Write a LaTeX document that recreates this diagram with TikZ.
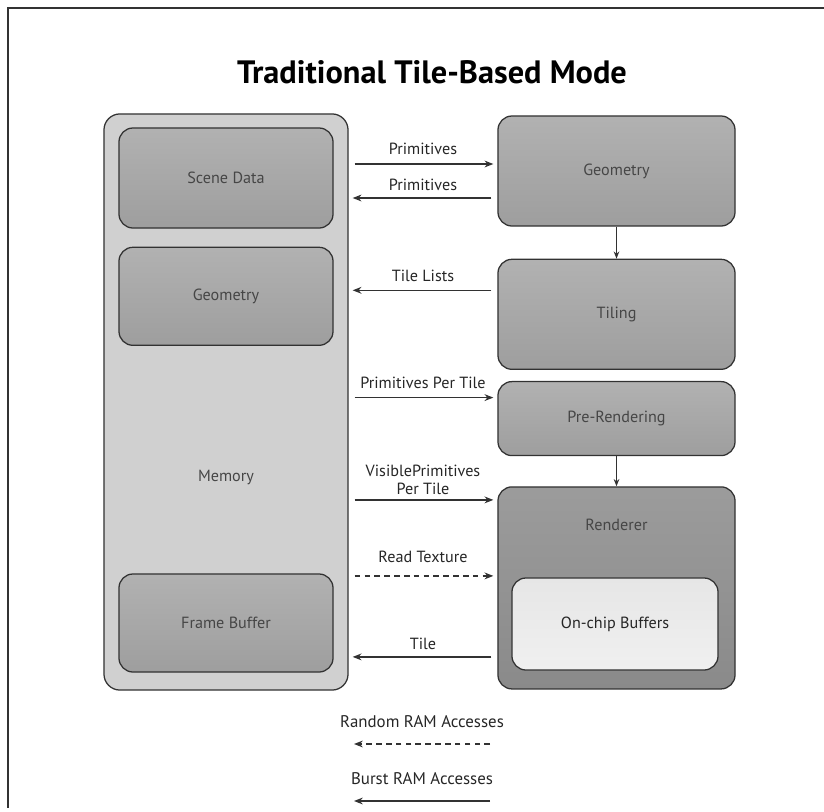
\documentclass[tikz,border=0pt]{standalone}
\usepackage{fontspec}
\setmainfont{PT Sans}
\usetikzlibrary{arrows.meta, positioning, calc}
\definecolor{boxgray}{RGB}{158, 158, 158}
\definecolor{boxdark}{RGB}{138, 138, 138}
\definecolor{memgray}{RGB}{208, 208, 208}
\definecolor{bufgray}{RGB}{230, 230, 230}
\definecolor{edgegray}{RGB}{50, 50, 50}
\definecolor{txtgray}{RGB}{70, 70, 70}

\begin{document}
\begin{tikzpicture}[x=0.025cm, y=-0.025cm,
    box/.style={draw=edgegray, line width=0.9pt, rounded corners=0.35cm, top color=boxgray!80!white, bottom color=boxgray, minimum width=5.35cm, font=\fontsize{11.5}{13}\selectfont, text=txtgray, align=center},
    rbox/.style={box, minimum width=5.925cm},
    lbl/.style={font=\fontsize{11.5}{13}\selectfont, text=black!85, align=center, inner sep=1pt},
    arr/.style={-{Stealth[length=2.2mm, width=1.7mm]}, line width=0.9pt, edgegray, shorten <=0.15cm, shorten >=0.1cm},
    down/.style={-{Stealth[length=1.8mm, width=1.4mm]}, line width=0.7pt, edgegray}
  ]
  \useasboundingbox (0,0) rectangle (824,811);
  % frame
  \draw[line width=1.1pt, edgegray] (824,8) -- (8,8) -- (8,808);
  \node[font=\bfseries\fontsize{23}{27}\selectfont] (title) at (432,72) {Traditional Tile-Based Mode};

  % memory column
  \node[box, top color=memgray, bottom color=memgray, minimum width=6.1cm, minimum height=14.4cm, rounded corners=0.4cm] (mem) at (226,402) {};
  \node[box, minimum height=2.5cm] (scene) at (226,178) {Scene Data};
  \node[box, minimum height=2.45cm, below=0.45cm of scene] (geoL) {Geometry};
  \node[lbl, font=\fontsize{11.5}{13}\selectfont, text=txtgray] (memlbl) at (226,477) {Memory};
  \node[box, minimum height=2.45cm] (fb) at (226,623) {Frame Buffer};

  % pipeline column
  \node[rbox, minimum height=2.75cm] (geoR) at (616.5,171) {Geometry};
  \node[rbox, minimum height=2.75cm, below=0.8cm of geoR] (tiling) {Tiling};
  \node[rbox, minimum height=1.85cm, below=0.275cm of tiling] (prer) {Pre-Rendering};
  \node[rbox, minimum height=5.05cm, top color=boxdark!85!white, bottom color=boxdark, below=0.75cm of prer] (rend) {};
  \node[lbl, font=\fontsize{11.5}{13}\selectfont, text=txtgray] (rendlbl) at ($(rend.north)+(0,39)$) {Renderer};
  \node[box, top color=bufgray, bottom color=bufgray!60!white, minimum width=5.15cm, minimum height=2.3cm, text=black!85] (buf) at (615,624) {On-chip Buffers};

  \draw[down] (geoR) -- (tiling);
  \draw[down] (prer) -- (rend);

  % memory traffic
  \draw[arr] ($(geoR.west -| mem.east)+(0,-7)$) -- node[lbl, above=5pt] {Primitives} ($(geoR.west)+(0,-7)$);
  \draw[arr] ($(geoR.west)+(0,27)$) -- node[lbl, above=4pt] {Primitives} ($(geoR.west -| mem.east)+(0,27)$);
  \draw[arr] ($(tiling.west)+(0,-24)$) -- node[lbl, above=5pt] {Tile Lists} ($(tiling.west -| mem.east)+(0,-24)$);
  \draw[arr] ($(prer.west -| mem.east)+(0,-21)$) -- node[lbl, above=5pt] {Primitives Per Tile} ($(prer.west)+(0,-21)$);
  \draw[arr] ($(rend.west -| mem.east)+(0,-88)$) -- node[lbl, above=2pt] {VisiblePrimitives\\Per Tile} ($(rend.west)+(0,-88)$);
  \draw[arr, dashed, dash pattern=on 4pt off 3pt] ($(rend.west -| mem.east)+(0,-12)$) -- node[lbl, above=8pt] {Read Texture} ($(rend.west)+(0,-12)$);
  \draw[arr] ($(rend.west)+(0,69)$) -- node[lbl, above=4pt] {Tile} ($(rend.west -| mem.east)+(0,69)$);

  % legend
  \coordinate (rndR) at (490,744);
  \coordinate (rndL) at (354,744);
  \coordinate (bstR) at (490,801);
  \coordinate (bstL) at (354,801);
  \draw[arr, dash pattern=on 4pt off 3pt, shorten <=0pt, shorten >=0pt] (rndR) -- node[lbl, font=\fontsize{12}{14}\selectfont, above=10pt] {Random RAM Accesses} (rndL);
  \draw[arr, shorten <=0pt, shorten >=0pt] (bstR) -- node[lbl, font=\fontsize{12}{14}\selectfont, above=10pt] {Burst RAM Accesses} (bstL);
\end{tikzpicture}
\end{document}
